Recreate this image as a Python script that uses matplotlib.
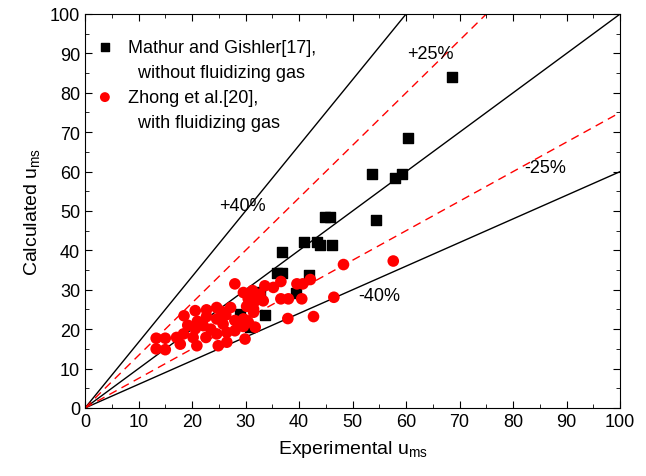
import numpy as np
import matplotlib.pyplot as plt
from matplotlib.lines import Line2D

plt.rcParams['font.family'] = ['Liberation Sans', 'DejaVu Sans']
plt.rcParams['mathtext.fontset'] = 'custom'
plt.rcParams['mathtext.rm'] = 'Liberation Sans'
plt.rcParams['mathtext.it'] = 'Liberation Sans:italic'

# Mathur and Gishler [17], without fluidizing gas
mathur_x = [29.0, 30.8, 32.7, 33.6, 35.8, 36.9, 36.9, 39.4, 40.9, 41.9, 43.3,
            44.0, 44.9, 45.8, 46.1, 53.6, 54.4, 57.9, 59.3, 60.4, 68.5]
mathur_y = [23.8, 20.5, 29.4, 23.7, 34.2, 34.3, 39.5, 29.2, 42.0, 33.8, 42.0,
            41.4, 48.4, 48.4, 41.4, 59.4, 47.7, 58.4, 59.4, 68.5, 84.0]

# Zhong et al. [20], with fluidizing gas
zhong_x = [13.3, 15.0, 13.3, 15.0, 17.1, 17.8, 18.4, 18.5, 20.2, 20.6, 20.6,
           20.9, 22.1, 22.6, 22.7, 24.6, 24.6, 24.6, 24.9, 25.8, 26.3, 26.5,
           26.5, 28.0, 28.0, 22.7, 21.0, 19.2, 27.2, 28.0, 25.5, 23.5,
           29.6, 30.5, 31.1, 31.3, 31.8, 32.7, 33.3, 33.6, 35.2, 36.6, 36.6,
           38.0, 39.6, 40.7, 40.5, 42.1, 30.2, 31.5, 29.6, 30.5, 29.3, 31.8,
           29.9, 29.6, 30.2, 31.5, 31.5, 37.9, 42.7, 46.5, 48.3, 57.6]
zhong_y = [17.7, 17.7, 15.0, 14.8, 17.9, 16.2, 18.8, 23.4, 17.9, 20.1, 24.7,
           15.8, 20.9, 17.9, 24.9, 25.5, 22.6, 18.8, 15.8, 21.3, 23.6, 19.2,
           16.7, 19.6, 31.5, 23.2, 22.0, 21.0, 25.5, 22.2, 24.5, 20.0,
           29.3, 27.7, 29.3, 29.8, 27.2, 28.9, 27.2, 31.0, 30.6, 32.1, 27.7,
           27.7, 31.5, 31.5, 27.7, 32.6, 25.8, 25.1, 22.6, 21.8, 20.9, 20.5,
           17.5, 20.7, 22.2, 24.3, 26.8, 22.7, 23.2, 28.1, 36.4, 37.3]

# reference lines y = slope * x
ratio_lines = [(1.0, 'black', '-'), (1 / 0.6, 'black', '-'), (0.6, 'black', '-'),
               (1 / 0.75, 'red', '--'), (0.75, 'red', '--')]
line_labels = [('+25%', 64.5, 90.0), ('+40%', 29.5, 51.5),
               ('-25%', 86.0, 61.0), ('-40%', 55.0, 28.5)]

fig = plt.figure(figsize=(6.46, 4.77), dpi=100)
ax = fig.add_axes([0.1316, 0.1426, 0.8284, 0.826])

xs = np.array([0, 100])
for slope, color, style in ratio_lines:
    ln, = ax.plot(xs, slope * xs, color=color, linestyle=style, lw=1.0, zorder=1)
    if style == '--':
        ln.set_dashes((6, 4))

sq = ax.scatter(mathur_x, mathur_y, marker='s', s=45, color='black', zorder=3)
ci = ax.scatter(zhong_x, zhong_y, marker='o', s=70, color='red',
                edgecolors='none', zorder=4)

for txt, lx, ly in line_labels:
    ax.text(lx, ly, txt, fontsize=13, ha='center', va='center')

ax.set_xlim(0, 100)
ax.set_ylim(0, 100)
ax.set_xticks(np.arange(0, 101, 10))
ax.set_yticks(np.arange(0, 101, 10))
ax.set_xticks(np.arange(5, 100, 10), minor=True)
ax.set_yticks(np.arange(5, 100, 10), minor=True)
ax.tick_params(which='both', direction='in', top=True, right=True, labelsize=13)
ax.tick_params(which='major', length=5)
ax.tick_params(which='minor', length=3)

ax.set_xlabel(r'Experimental u$_{\rm ms}$', fontsize=14, labelpad=6)
ax.set_ylabel(r'Calculated u$_{\rm ms}$', fontsize=14, labelpad=6)

blank = Line2D([], [], linestyle='none')
ax.legend([sq, blank, ci, blank],
          ['Mathur and Gishler[17],', '  without fluidizing gas',
           'Zhong et al.[20],', '  with fluidizing gas'],
          loc='upper left', frameon=False, fontsize=13, markerscale=0.85,
          handlelength=1.0, handletextpad=0.8, borderpad=0.3,
          borderaxespad=0.3, labelspacing=0.45,
          bbox_to_anchor=(0.0, 0.965))

fig.savefig('out.png', dpi=100)
